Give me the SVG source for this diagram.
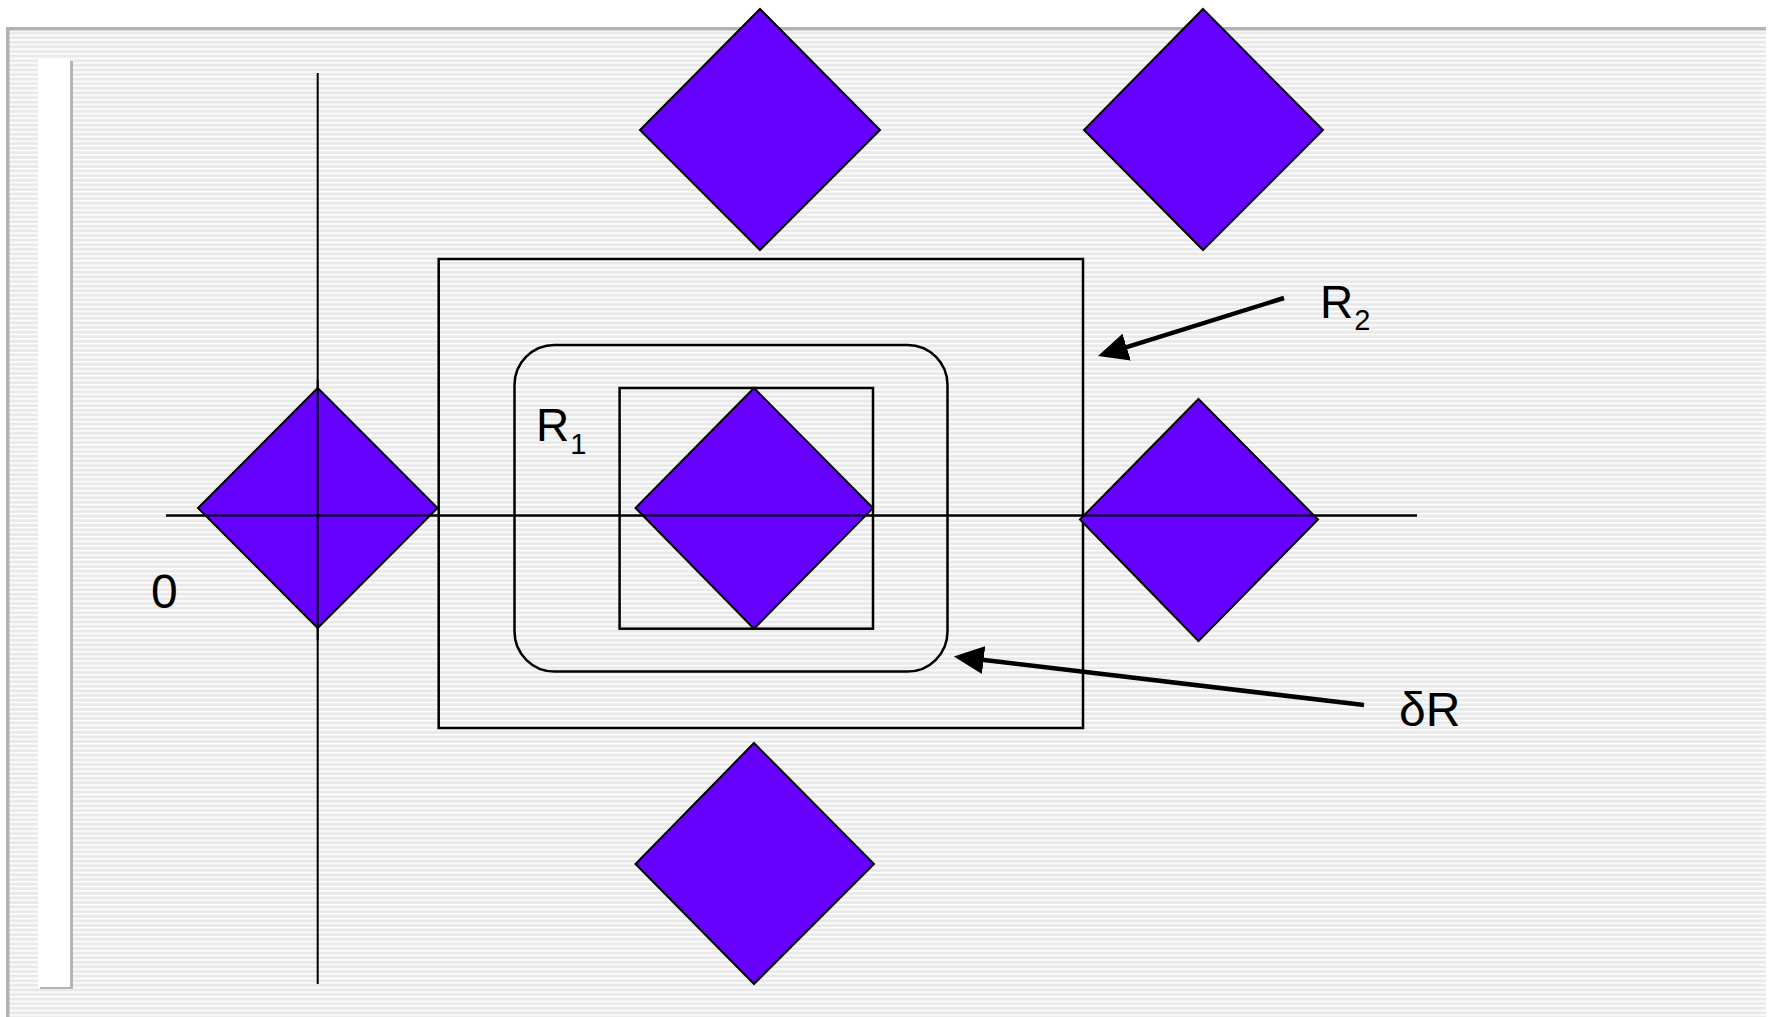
<svg xmlns="http://www.w3.org/2000/svg" width="1773" height="1017" viewBox="0 0 1773 1017">
  <defs>
    <!-- fine horizontal ruling of the slide background -->
    <pattern id="ruling" patternUnits="userSpaceOnUse" x="0" y="30" width="20" height="4.6">
      <rect x="0" y="0" width="20" height="4.6" fill="#e9e9e9"/>
      <rect x="0" y="0" width="20" height="1.5" fill="#ffffff"/>
    </pattern>
    <marker id="head" markerUnits="userSpaceOnUse" viewBox="0 0 30 28" markerWidth="30" markerHeight="28" refX="10" refY="14" orient="auto">
      <path d="M0,0 L30,14 L0,28 Z" fill="#000"/>
    </marker>
  </defs>
  <style>
    .diamond { fill: #6600ff; stroke: #000; stroke-width: 2; stroke-linejoin: miter; }
    .frame { fill: none; stroke: #000; stroke-width: 2.5; }
    .axis { fill: none; stroke: #000; stroke-width: 2; }
    .pointer { fill: none; stroke: #000; stroke-width: 4.5; }
    .lbl { font-family: "Liberation Sans", Arial, sans-serif; fill: #000; }
  </style>

  <rect width="1773" height="1017" fill="#ffffff"/>

  <!-- slide panel -->
  <g id="panel">
    <rect x="6" y="27" width="1760" height="990" fill="url(#ruling)"/>
    <rect x="6" y="27" width="1760" height="3.5" fill="#b2b2b2"/>
    <rect x="6" y="27" width="3.5" height="990" fill="#b2b2b2"/>
    <!-- white side bar with shadow -->
    <rect x="40" y="61" width="33" height="928" fill="#b4b4b4"/>
    <rect x="38" y="59" width="32" height="928" fill="#ffffff"/>
  </g>

  <!-- coordinate axes -->
  <g id="axes">
    <line class="axis" x1="317.7" y1="73" x2="317.7" y2="984"/>
    <line class="axis" x1="166" y1="515.6" x2="1417" y2="515.6"/>
  </g>

  <!-- regions -->
  <g id="R2-rect"><rect class="frame" x="438.7" y="259" width="644.3" height="469"/></g>
  <g id="dR-rect"><rect class="frame" x="514.5" y="345" width="433" height="326.6" rx="40" ry="40"/></g>
  <g id="R1-rect"><rect class="frame" x="619.6" y="388" width="253.4" height="240.7"/></g>

  <!-- lattice diamonds -->
  <g id="d-left"><path class="diamond" d="M317.7,388 L437.5,508 L317.7,628 L198,508 Z"/></g>
  <g id="d-center"><path class="diamond" d="M754,388 L873,508 L754,628.7 L635.5,508 Z"/></g>
  <g id="d-right"><path class="diamond" d="M1198.5,399 L1318,519.5 L1198.5,641 L1080,519.5 Z"/></g>
  <g id="d-top1"><path class="diamond" d="M760,9 L880,130 L760,250 L640,130 Z"/></g>
  <g id="d-top2"><path class="diamond" d="M1203,9 L1323,130 L1203,250 L1084,130 Z"/></g>
  <g id="d-bottom"><path class="diamond" d="M754,743 L874,864 L754,984 L635.5,864 Z"/></g>

  <!-- axes drawn over diamonds -->
  <g id="axes-over">
    <line class="axis" x1="317.7" y1="380" x2="317.7" y2="640"/>
    <line class="axis" x1="166" y1="515.6" x2="1417" y2="515.6"/>
  </g>

  <!-- label pointers -->
  <g id="connectors">
    <line class="pointer" x1="1284" y1="298" x2="1117.1" y2="350.1" marker-end="url(#head)"/>
    <line class="pointer" x1="1364" y1="705" x2="973.7" y2="658.8" marker-end="url(#head)"/>
  </g>

  <!-- labels -->
  <g id="labels">
    <text class="lbl" x="1320" y="318" font-size="46">R<tspan font-size="29" dx="1" dy="12">2</tspan></text>
    <text class="lbl" x="1399" y="726" font-size="48">δR</text>
    <text class="lbl" x="536" y="441" font-size="46">R<tspan font-size="29" dx="1" dy="13">1</tspan></text>
    <text class="lbl" x="151" y="608" font-size="48">0</text>
  </g>
</svg>
